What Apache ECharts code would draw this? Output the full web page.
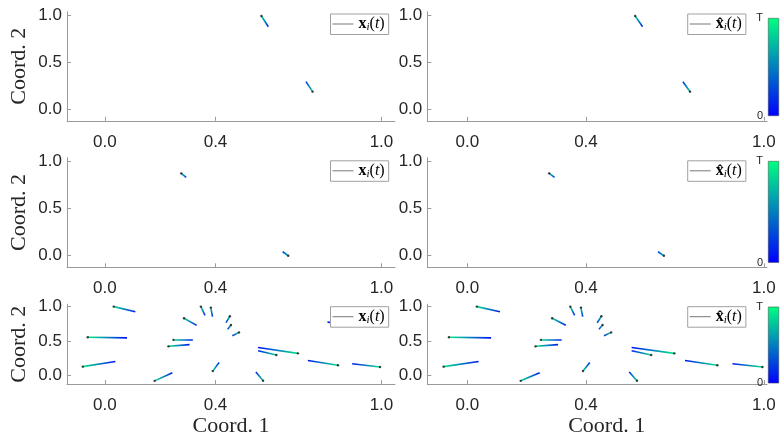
<!DOCTYPE html>
<html><head><meta charset="utf-8">
<script src="https://cdn.jsdelivr.net/npm/echarts@6/dist/echarts.min.js"></script>
<style>html,body{margin:0;padding:0;background:#fff}#c{width:780px;height:438px}</style>
</head><body><div id="c"></div>
<script>
// Trajectories per row: [x(0), y(0), x(T), y(T)]  (start at t=0 -> end at t=T)
const trajRow1 = [[0.591,0.876,0.566,0.989],[0.727,0.293,0.751,0.187]];
const trajRow2 = [[0.294,0.828,0.276,0.870],[0.643,0.042,0.663,0.000]];
const trajRow3 = [
  [0.110,0.926,0.032,1.000],
  [0.080,0.547,-0.062,0.557],
  [0.038,0.206,-0.080,0.131],
  [0.244,0.042,0.180,-0.075],
  [0.332,0.729,0.286,0.832],
  [0.318,0.519,0.248,0.519],
  [0.306,0.449,0.230,0.425],
  [0.362,0.874,0.347,1.000],
  [0.389,0.856,0.383,0.986],
  [0.413,0.192,0.390,0.066],
  [0.438,0.767,0.452,0.860],
  [0.444,0.673,0.456,0.734],
  [0.461,0.579,0.485,0.627],
  [0.554,0.407,0.698,0.323],
  [0.554,0.360,0.620,0.299],
  [0.734,0.220,0.843,0.150],
  [0.894,0.173,0.995,0.126],
  [0.546,0.052,0.572,-0.074],
  [0.805,0.776,0.880,0.745]
];
// estimated trajectories (visually identical to the true ones)
const hatRow1 = trajRow1.map(r => r.slice());
const hatRow2 = trajRow2.map(r => r.slice());
const hatRow3 = trajRow3.map(r => r.slice());

const xTicks = [0, 0.4, 1.0];
const yTicks = [0, 0.5, 1.0];
const cbTicks = [0, 1];
const cbLabels = ['0', 'T'];
const xName = 'Coord. 1';
const yName = 'Coord. 2';
const cBlue = '#0000ff', cGreen = '#00ff80';

const chart = echarts.init(document.getElementById('c'));

const rows = [{top:11.7,height:109.1},{top:157.7,height:109.6},{top:304.2,height:82.3}];
const cols = [{left:67,width:328,xmin:-0.137,xmax:1.049},{left:427.3,width:339.7,xmin:-0.135,xmax:1.0105}];
const cbars = [{top:18,height:98},{top:161,height:101.7},{top:306.7,height:76.6}];
const panels = [trajRow1, hatRow1, trajRow2, hatRow2, trajRow3, hatRow3];

const grid=[], xAxis=[], yAxis=[], series=[], legend=[];
const serif = 'Liberation Serif', sans = 'Liberation Sans';
const axisCol = '#9a9a9a', txtCol = '#262626';

function grad(s){
  const lx = s[0] <= s[2], top = s[1] >= s[3];
  return new echarts.graphic.LinearGradient(lx?0:1, top?0:1, lx?1:0, top?1:0,
    [{offset:0,color:cBlue},{offset:1,color:cGreen}]);
}

let gi = 0;
for (let r=0;r<3;r++){
  for (let c=0;c<2;c++){
    const R=rows[r], C=cols[c];
    grid.push({left:C.left, top:R.top, width:C.width, height:R.height, containLabel:false});
    xAxis.push({
      gridIndex:gi, type:'value', min:C.xmin, max:C.xmax,
      axisLine:{show:true,onZero:false,lineStyle:{color:axisCol,width:1}},
      axisTick:{show:true,inside:true,length:4,customValues:xTicks,lineStyle:{color:axisCol}},
      axisLabel:{customValues:xTicks,formatter:v=>v.toFixed(1),fontFamily:sans,fontSize:17,color:txtCol,margin:13},
      splitLine:{show:false},
      name: r===2 ? xName : '', nameLocation:'middle', nameGap:28,
      nameTextStyle:{fontFamily:serif,fontSize:22,color:txtCol,padding: c===1?[0,0,0,19]:[0,0,0,0]}
    });
    yAxis.push({
      gridIndex:gi, type:'value', min:-0.122, max:1.035,
      axisLine:{show:true,onZero:false,lineStyle:{color:axisCol,width:1}},
      axisTick:{show:true,inside:true,length:4,customValues:yTicks,lineStyle:{color:axisCol}},
      axisLabel:{customValues:yTicks,formatter:v=>v.toFixed(1),fontFamily:sans,fontSize:17,color:txtCol,margin:5},
      splitLine:{show:false},
      name: c===0 ? yName : '', nameLocation:'middle', nameGap:37, nameRotate:90,
      nameTextStyle:{fontFamily:serif,fontSize:22,color:txtCol}
    });
    const data = panels[gi];
    series.push({
      type:'lines', coordinateSystem:'cartesian2d', xAxisIndex:gi, yAxisIndex:gi, silent:true, z:2,
      lineStyle:{width:1.6,opacity:1},
      data: data.map(s=>({coords:[[s[0],s[1]],[s[2],s[3]]], lineStyle:{color:grad(s)}}))
    });
    series.push({
      type:'scatter', xAxisIndex:gi, yAxisIndex:gi, silent:true, z:3,
      symbolSize:2.4, itemStyle:{color:'#111'},
      data: data.map(s=>[s[2],s[3]])
    });
    const nm = (c===0?'x':'xh') + r;
    series.push({type:'line', name:nm, xAxisIndex:gi, yAxisIndex:gi, data:[], symbol:'none',
      lineStyle:{color:'#777',width:1}, itemStyle:{color:'#777'}});
    legend.push({
      data:[nm], left: c===0?330.5:687.7, top: [14,160.8,306.7][r],
      selectedMode:false, backgroundColor:'#fff', borderColor:'#a0a0a0', borderWidth:1, borderRadius:0,
      padding:[2,4,2,2], icon:'rect', itemWidth:21, itemHeight:1, itemGap:0,
      itemStyle:{color:'#777', borderWidth:0},
      formatter: n => (n.indexOf('xh')===0 ? '{b|x\u0302}' : '{b|x}') + '{s|i}{n|(}{it|t}{n|)}',
      textStyle:{
        rich:{
          b:{fontFamily:serif,fontWeight:'bold',fontSize:16,color:'#000',lineHeight:17},
          s:{fontFamily:serif,fontStyle:'italic',fontSize:11,color:'#000',lineHeight:6,verticalAlign:'bottom'},
          n:{fontFamily:serif,fontSize:16,color:'#000',lineHeight:17},
          it:{fontFamily:serif,fontStyle:'italic',fontSize:16,color:'#000',lineHeight:17}
        }
      }
    });
    gi++;
  }
}

// colorbars on the right column
for (let r=0;r<3;r++){
  const B = cbars[r];
  grid.push({left:768, top:B.top, width:11, height:B.height});
  xAxis.push({gridIndex:gi, type:'category', data:['c'], show:false});
  yAxis.push({gridIndex:gi, type:'value', min:0, max:1,
    axisLine:{show:false}, axisTick:{show:false}, splitLine:{show:false},
    axisLabel:{customValues:cbTicks, formatter:v=>cbLabels[cbTicks.indexOf(v)], fontFamily:sans, fontSize:11, color:txtCol, margin:5}
  });
  series.push({type:'bar', xAxisIndex:gi, yAxisIndex:gi, silent:true, barWidth:'100%', data:[1],
    itemStyle:{color:new echarts.graphic.LinearGradient(0,0,0,1,[{offset:0,color:cGreen},{offset:1,color:cBlue}]),
      borderColor:'#444',borderWidth:0.5}});
  gi++;
}

chart.setOption({animation:false, backgroundColor:'#fff', grid, xAxis, yAxis, series, legend});
</script></body></html>
